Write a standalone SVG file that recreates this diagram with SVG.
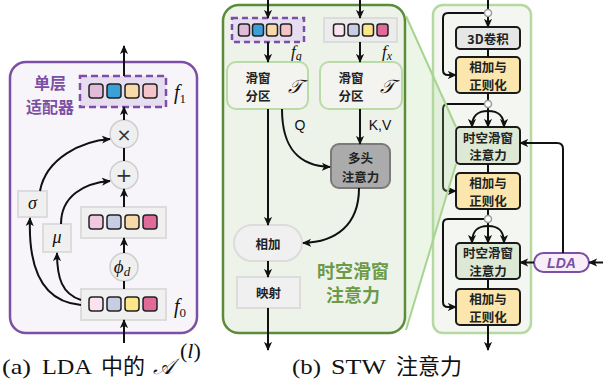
<svg xmlns="http://www.w3.org/2000/svg" width="603" height="385" viewBox="0 0 603 385">
<style>
.ln{fill:none;stroke:#111;stroke-width:2}
.arr{fill:none;stroke:#111;stroke-width:2;marker-end:url(#ah)}
.sq{stroke:#222;stroke-width:1.5}
.gbox{fill:#f0f0f0;stroke:#dcdcdc;stroke-width:2}
.circ{fill:#efefef;stroke:#cfcfcf;stroke-width:1.5}
.cn{font-family:"Noto Sans CJK SC","Noto Sans",sans-serif;font-size:12.5px;font-weight:bold;fill:#222;text-anchor:middle;dominant-baseline:central}
.math{font-family:"Liberation Serif","DejaVu Serif",serif;font-style:italic;fill:#111}
.blk{stroke:#1a1a1a;stroke-width:2}
.cap{font-family:"Liberation Serif","Noto Sans CJK SC",serif;font-size:22px;fill:#111}
</style>
<defs>
<marker id="ah" viewBox="0 0 10 10" refX="9" refY="5" markerWidth="9" markerHeight="9" markerUnits="userSpaceOnUse" orient="auto">
<path d="M0,0.5 L10,5 L0,9.5 L2.5,5 z" fill="#111"/>
</marker>
</defs>

<!-- Panel (a) -->
<g id="panel-a">
<rect x="10" y="62" width="187" height="271" rx="16" fill="#f8f5fa" stroke="#7b4fa6" stroke-width="2.5"/>
<text x="50" y="82" font-family="Noto Sans CJK SC,sans-serif" font-size="16" font-weight="bold" fill="#7b4fa6" text-anchor="middle" dominant-baseline="central">单层</text>
<text x="50" y="105.5" font-family="Noto Sans CJK SC,sans-serif" font-size="16" font-weight="bold" fill="#7b4fa6" text-anchor="middle" dominant-baseline="central">适配器</text>
</g>
<g id="f1">
<rect x="80" y="76" width="86" height="31" fill="#e6def0" stroke="#7b4fa6" stroke-width="2.5" stroke-dasharray="7,4"/>
<rect class="sq" x="89" y="84" width="14" height="14" rx="3" fill="#e0bcd9"/>
<rect class="sq" x="107" y="84" width="14" height="14" rx="3" fill="#3aa0d8"/>
<rect class="sq" x="125" y="84" width="14" height="14" rx="3" fill="#f8d9a8"/>
<rect class="sq" x="143" y="84" width="14" height="14" rx="3" fill="#f5c4c8"/>
<text class="math" x="174" y="99" font-size="20">f<tspan font-style="normal" font-size="13" dy="4">1</tspan></text>
</g>
<g id="mul"><circle class="circ" cx="124" cy="134" r="14"/><text x="124" y="134" font-family="DejaVu Sans,sans-serif" font-size="18" fill="#333" text-anchor="middle" dominant-baseline="central">×</text></g>
<g id="add"><circle class="circ" cx="124" cy="175" r="14"/><text x="124" y="175" font-family="DejaVu Sans,sans-serif" font-size="20" fill="#333" text-anchor="middle" dominant-baseline="central">+</text></g>
<g id="mid">
<rect class="gbox" x="81" y="207" width="85" height="31"/>
<rect class="sq" x="89" y="215" width="14" height="14" rx="3" fill="#f0c8e0"/>
<rect class="sq" x="107" y="215" width="14" height="14" rx="3" fill="#c8cde6"/>
<rect class="sq" x="125" y="215" width="14" height="14" rx="3" fill="#f8d9a8"/>
<rect class="sq" x="143" y="215" width="14" height="14" rx="3" fill="#e06a9a"/>
</g>
<g id="phi"><circle class="circ" cx="124" cy="267" r="14"/><text class="math" x="122" y="273" font-size="19" text-anchor="middle">ϕ<tspan font-size="13" dy="3">d</tspan></text></g>
<g id="f0">
<rect class="gbox" x="81" y="289" width="85" height="31"/>
<rect class="sq" x="89" y="297" width="14" height="14" rx="3" fill="#fbe2ef"/>
<rect class="sq" x="107" y="297" width="14" height="14" rx="3" fill="#c8cde6"/>
<rect class="sq" x="125" y="297" width="14" height="14" rx="3" fill="#fde58a"/>
<rect class="sq" x="143" y="297" width="14" height="14" rx="3" fill="#e06a9a"/>
<text class="math" x="174" y="313" font-size="20">f<tspan font-style="normal" font-size="13" dy="4">0</tspan></text>
</g>
<g id="sigma"><rect class="gbox" x="18" y="191" width="29" height="26"/><text class="math" x="32.5" y="209" font-size="18" text-anchor="middle">σ</text></g>
<g id="mu"><rect class="gbox" x="43" y="224" width="28" height="28"/><text class="math" x="57" y="243" font-size="18" text-anchor="middle">μ</text></g>

<!-- Panel (b) -->
<g id="panel-b">
<rect x="223" y="5" width="182" height="328" rx="16" fill="#eef3e9" stroke="#5b8c3a" stroke-width="2.5"/>
<text x="353" y="270" font-family="Noto Sans CJK SC,sans-serif" font-size="18" font-weight="bold" fill="#6a9a4a" text-anchor="middle" dominant-baseline="central">时空滑窗</text>
<text x="353" y="294" font-family="Noto Sans CJK SC,sans-serif" font-size="18" font-weight="bold" fill="#6a9a4a" text-anchor="middle" dominant-baseline="central">注意力</text>
</g>
<g id="fg">
<rect x="232" y="18" width="72" height="24" fill="#e6def0" stroke="#7b4fa6" stroke-width="2.5" stroke-dasharray="6,4"/>
<rect class="sq" x="238.5" y="24" width="11" height="12" rx="2.5" fill="#e0bcd9"/>
<rect class="sq" x="252.5" y="24" width="11" height="12" rx="2.5" fill="#3aa0d8"/>
<rect class="sq" x="266.5" y="24" width="11" height="12" rx="2.5" fill="#f8d9a8"/>
<rect class="sq" x="280.5" y="24" width="11" height="12" rx="2.5" fill="#f5c4c8"/>
<text class="math" x="291" y="57" font-size="17">f<tspan font-size="12" dy="3">g</tspan></text>
</g>
<g id="fx">
<rect x="324" y="18" width="73" height="24" fill="#ececec" stroke="#dcdcdc" stroke-width="2"/>
<rect class="sq" x="333.5" y="24" width="11" height="12" rx="2.5" fill="#fbe2ef"/>
<rect class="sq" x="348" y="24" width="11" height="12" rx="2.5" fill="#c8cde6"/>
<rect class="sq" x="362.5" y="24" width="11" height="12" rx="2.5" fill="#fde58a"/>
<rect class="sq" x="377" y="24" width="11" height="12" rx="2.5" fill="#e06a9a"/>
<text class="math" x="382" y="57" font-size="17">f<tspan font-size="12" dy="3">x</tspan></text>
</g>
<g id="part-left">
<rect x="227" y="62" width="81" height="47" rx="9" fill="#f3f3ef" stroke="#b9dca6" stroke-width="2"/>
<text class="cn" x="258" y="77">滑窗</text><text class="cn" x="258" y="95">分区</text>
<text class="math" x="295" y="93" font-size="19" text-anchor="middle">𝒯</text>
</g>
<g id="part-right">
<rect x="320" y="62" width="82" height="47" rx="9" fill="#f3f3ef" stroke="#b9dca6" stroke-width="2"/>
<text class="cn" x="351" y="77">滑窗</text><text class="cn" x="351" y="95">分区</text>
<text class="math" x="387" y="93" font-size="19" text-anchor="middle">𝒯</text>
</g>
<g id="mha">
<rect x="331" y="144" width="59" height="44" rx="8" fill="#ababab" stroke="#7a7a7a" stroke-width="2"/>
<text class="cn" x="360.5" y="157">多头</text><text class="cn" x="360.5" y="176">注意力</text>
</g>
<g id="sum">
<rect x="234" y="225" width="68" height="36" rx="18" fill="#f0f0f0" stroke="#dcdcdc" stroke-width="2"/>
<text class="cn" x="268" y="243">相加</text>
</g>
<g id="proj">
<rect class="gbox" x="237" y="277" width="63" height="31"/>
<text class="cn" x="268.5" y="292.5">映射</text>
</g>
<g id="labels-b" font-family="Liberation Sans,Arial,sans-serif" font-size="14" fill="#111" text-anchor="middle">
<text x="300" y="130">Q</text><text x="380" y="130">K,V</text>
</g>

<!-- Panel (c) -->
<g id="panel-c">
<rect x="433" y="5" width="98" height="328" rx="10" fill="#f4f6f2" stroke="#b5d9a0" stroke-width="2.5"/>
</g>
<g id="conv3d"><rect class="blk" x="456" y="27" width="64" height="22" rx="4" fill="#e6e6e6"/><text class="cn" x="488" y="38">3D卷积</text></g>
<g id="norm1"><rect class="blk" x="456" y="57" width="64" height="36" rx="4" fill="#fbe6ad"/><text class="cn" x="488" y="66.5">相加与</text><text class="cn" x="488" y="84">正则化</text></g>
<g id="stw1"><rect class="blk" x="456" y="127" width="64" height="37" rx="4" fill="#dde9d5"/><text class="cn" x="488" y="137">时空滑窗</text><text class="cn" x="488" y="154.5">注意力</text></g>
<g id="norm2"><rect class="blk" x="456" y="173" width="64" height="36" rx="4" fill="#fbe6ad"/><text class="cn" x="488" y="182.5">相加与</text><text class="cn" x="488" y="200">正则化</text></g>
<g id="stw2"><rect class="blk" x="456" y="243" width="64" height="36" rx="4" fill="#dde9d5"/><text class="cn" x="488" y="252.5">时空滑窗</text><text class="cn" x="488" y="270">注意力</text></g>
<g id="norm3"><rect class="blk" x="456" y="289" width="64" height="36" rx="4" fill="#fbe6ad"/><text class="cn" x="488" y="298.5">相加与</text><text class="cn" x="488" y="316">正则化</text></g>
<g id="lda"><rect x="534" y="253" width="55" height="19" rx="9.5" fill="#f8eefa" stroke="#7b4fa6" stroke-width="2"/><text x="561.5" y="263" font-family="Liberation Sans,Arial,sans-serif" font-size="14" font-weight="bold" font-style="italic" fill="#7b4fa6" text-anchor="middle" dominant-baseline="central">LDA</text></g>

<!-- connectors -->
<g id="connectors">
<line class="arr" x1="124" y1="76" x2="124" y2="46"/>
<line class="arr" x1="124" y1="120" x2="124" y2="107"/>
<line class="ln" x1="124" y1="161" x2="124" y2="148"/>
<line class="arr" x1="124" y1="207" x2="124" y2="189"/>
<line class="arr" x1="124" y1="253" x2="124" y2="238"/>
<line class="ln" x1="124" y1="289" x2="124" y2="281"/>
<line class="arr" x1="124" y1="343" x2="124" y2="320"/>
<path class="arr" d="M81,305 C45,302 28,272 30,218"/>
<path class="arr" d="M81,300 C62,294 57,278 57,253"/>
<path class="arr" d="M40,191 C46,158 82,141 110,139"/>
<path class="arr" d="M61,224 C61,196 84,183 110,181"/>
<line class="arr" x1="268" y1="0" x2="268" y2="18"/>
<line class="arr" x1="360" y1="0" x2="360" y2="18"/>
<line class="arr" x1="268" y1="42" x2="268" y2="62"/>
<line class="arr" x1="360" y1="42" x2="360" y2="62"/>
<line class="arr" x1="268" y1="109" x2="268" y2="225"/>
<path class="arr" d="M282,109 C282,150 300,166 330,167"/>
<line class="arr" x1="360" y1="109" x2="360" y2="144"/>
<path class="arr" d="M359,188 C359,225 336,242 303,243"/>
<line class="arr" x1="268" y1="261" x2="268" y2="277"/>
<line class="arr" x1="268" y1="308" x2="268" y2="350"/>
<line class="ln" x1="488" y1="0" x2="488" y2="10"/>
<line class="arr" x1="488" y1="17" x2="488" y2="27"/>
<path class="arr" d="M484.5,13 H448 Q443,13 443,18 V70 Q443,75 448,75 H456"/>
<line class="ln" x1="488" y1="49" x2="488" y2="57"/>
<line class="ln" x1="488" y1="93" x2="488" y2="100.5"/>
<path class="arr" d="M484.5,104 H448 Q443,104 443,109 V186 Q443,191 448,191 H456"/>
<line class="arr" x1="488" y1="107.5" x2="488" y2="127"/>
<path class="arr" d="M488,111 C478,111 472,115 472,127"/>
<path class="arr" d="M488,111 C498,111 504,115 504,127"/>
<line class="ln" x1="488" y1="164" x2="488" y2="173"/>
<line class="ln" x1="488" y1="209" x2="488" y2="215.5"/>
<path class="arr" d="M484.5,219 H448 Q443,219 443,224 V302 Q443,307 448,307 H456"/>
<line class="arr" x1="488" y1="222.5" x2="488" y2="243"/>
<path class="arr" d="M488,226 C478,226 472,230 472,243"/>
<path class="arr" d="M488,226 C498,226 504,230 504,243"/>
<line class="ln" x1="488" y1="279" x2="488" y2="289"/>
<line class="arr" x1="488" y1="325" x2="488" y2="350"/>
<path class="arr" d="M563,253 V149 Q563,143 557,143 H520"/>
<line class="arr" x1="534" y1="262.5" x2="520" y2="262.5"/>
<line class="arr" x1="603" y1="262.5" x2="589" y2="262.5"/>
<circle cx="488" cy="13" r="3.5" fill="#fff" stroke="#999" stroke-width="1.5"/>
<circle cx="488" cy="104" r="3.5" fill="#fff" stroke="#999" stroke-width="1.5"/>
<circle cx="488" cy="219" r="3.5" fill="#fff" stroke="#999" stroke-width="1.5"/>
</g>

<!-- zoom trapezoid -->
<g id="zoom-link">
<polygon points="406,16 456,127 456,164 406,330" fill="#a8d490" fill-opacity="0.22"/>
<line x1="406" y1="16" x2="456" y2="127" stroke="#a8d490" stroke-width="2"/>
<line x1="406" y1="330" x2="456" y2="164" stroke="#a8d490" stroke-width="2"/>
</g>

<!-- captions -->
<g id="captions">
<text class="cap" x="2" y="374" textLength="29" lengthAdjust="spacingAndGlyphs">(a)</text>
<text class="cap" x="42" y="374" textLength="50" lengthAdjust="spacingAndGlyphs">LDA</text>
<text class="cap" x="101" y="374">中的</text>
<text class="cap" x="153" y="374" font-style="italic" font-size="24">𝒜</text>
<text class="cap" x="180" y="358" font-size="15">(<tspan font-style="italic">l</tspan>)</text>
<text class="cap" x="292" y="374" textLength="29" lengthAdjust="spacingAndGlyphs">(b)</text>
<text class="cap" x="331" y="374" textLength="55" lengthAdjust="spacingAndGlyphs">STW</text>
<text class="cap" x="396" y="374">注意力</text>
</g>
</svg>
